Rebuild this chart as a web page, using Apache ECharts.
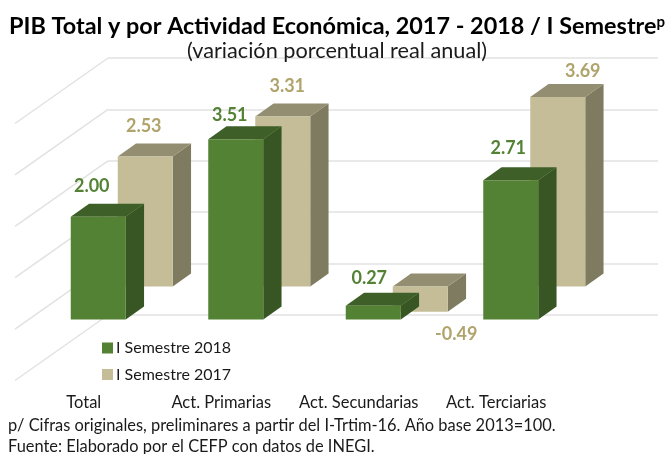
<!DOCTYPE html>
<html>
<head>
<meta charset="utf-8">
<style>html,body{margin:0;padding:0;background:#fff}#c{width:668px;height:454px}</style>
<script src="https://cdn.jsdelivr.net/npm/echarts@6/dist/echarts.min.js"></script>
</head>
<body>
<div id="c"></div>
<script>
var categories = ['Total', 'Act. Primarias', 'Act. Secundarias', 'Act. Terciarias'];
var values2018 = [2.00, 3.51, 0.27, 2.71];
var values2017 = [2.53, 3.31, -0.49, 3.69];
var wallTicks = [-1, 0, 1, 2, 3, 4];
var FONT = 'Lato, "Open Sans", sans-serif';
var DEPTH_X = 18.3, DEPTH_Y = 13, BAR_W = 55, FLOOR_X = 93, FLOOR_Y = 65.5;

function barRenderer(shiftX, shiftY, front, top, side, labelColor, labelOffsets) {
  return function (params, api) {
    var cat = api.value(0), v = api.value(1);
    var p0 = api.coord([cat, 0]), pv = api.coord([cat, v]);
    var cx = p0[0] + shiftX;
    var l = cx - BAR_W / 2, r = cx + BAR_W / 2;
    var t = Math.min(p0[1], pv[1]) + shiftY, b = Math.max(p0[1], pv[1]) + shiftY;
    var off = labelOffsets[params.dataIndex];
    return {
      type: 'group',
      children: [
        { type: 'polygon', shape: { points: [[r, t], [r + DEPTH_X, t - DEPTH_Y], [r + DEPTH_X, b - DEPTH_Y], [r, b]] }, style: { fill: side } },
        { type: 'polygon', shape: { points: [[l, t], [l + DEPTH_X, t - DEPTH_Y], [r + DEPTH_X, t - DEPTH_Y], [r, t]] }, style: { fill: top } },
        { type: 'rect', shape: { x: l, y: t, width: BAR_W, height: b - t }, style: { fill: front } },
        { type: 'text', z2: 100, style: { text: v.toFixed(2), x: cx + off[0], y: pv[1] + shiftY + off[1], fill: labelColor,
            font: 'bold 18px ' + FONT, textAlign: 'center', textVerticalAlign: 'middle' } }
      ]
    };
  };
}
function pairs(arr) { return arr.map(function (v, i) { return [i, v]; }); }

var chart = echarts.init(document.getElementById('c'), null, { renderer: 'canvas' });
chart.setOption({
  animation: false,
  backgroundColor: '#ffffff',
  title: [
    { text: '{a|PIB Total y por Actividad Económica, 2017 - 2018 / I Semestre}{b|p}', left: 337, top: 15, padding: 0, textAlign: 'center',
      textStyle: { rich: {
        a: { fontFamily: FONT, fontWeight: 'bold', fontSize: 23.4, color: '#000' },
        b: { fontFamily: FONT, fontWeight: 'bold', fontSize: 15, color: '#000', verticalAlign: 'top' } } } },
    { text: '(variación porcentual real anual)', left: 337, top: 40, padding: 0, textAlign: 'center',
      textStyle: { fontFamily: FONT, fontWeight: 'normal', fontSize: 21.7, color: '#1a1a1a' } },
    { text: 'p/ Cifras originales, preliminares a partir del I-Trtim-16. Año base 2013=100.', left: 8, top: 418, padding: 0,
      textStyle: { fontFamily: FONT, fontWeight: 'normal', fontSize: 16.4, color: '#1a1a1a' } },
    { text: 'Fuente: Elaborado por el CEFP con datos de INEGI.', left: 8, top: 439, padding: 0,
      textStyle: { fontFamily: FONT, fontWeight: 'normal', fontSize: 16.4, color: '#1a1a1a' } }
  ],
  legend: {
    orient: 'vertical', left: 102, top: 340, padding: 0, itemWidth: 11, itemHeight: 11, itemGap: 10.5,
    icon: 'rect', data: ['I Semestre 2018', 'I Semestre 2017'],
    textStyle: { fontFamily: FONT, fontSize: 16, color: '#1a1a1a', padding: [0, 0, 0, -2] }
  },
  grid: [
    { left: 108, top: 58, width: 550, height: 257 },
    { left: 15, top: 123.5, width: 550, height: 257 }
  ],
  xAxis: [
    { type: 'category', gridIndex: 0, data: categories, show: false },
    { type: 'category', gridIndex: 1, data: categories, axisLine: { show: false }, axisTick: { show: false },
      axisLabel: { margin: 14, fontFamily: FONT, fontSize: 16.5, color: '#1a1a1a', interval: 0 } }
  ],
  yAxis: [
    { type: 'value', gridIndex: 0, min: -1, max: 4, interval: 1, axisLine: { show: false }, axisTick: { show: false },
      axisLabel: { show: false }, splitLine: { show: true, lineStyle: { color: '#e2e2e2', width: 1.5 } } },
    { type: 'value', gridIndex: 1, min: -1, max: 4, interval: 1, show: false, splitLine: { show: false } }
  ],
  series: [
    { type: 'custom', name: 'floor', silent: true, xAxisIndex: 0, yAxisIndex: 0, z: 1,
      data: wallTicks.map(function (t) { return [0, t]; }),
      encode: { x: 0, y: 1 },
      renderItem: function (params, api) {
        var y = api.coord([0, api.value(1)])[1], x = params.coordSys.x;
        return { type: 'line', shape: { x1: x, y1: y, x2: x - FLOOR_X, y2: y + FLOOR_Y },
          style: { stroke: '#e2e2e2', lineWidth: 1.5 } };
      } },
    { type: 'custom', name: 'I Semestre 2017', silent: true, xAxisIndex: 0, yAxisIndex: 0, z: 2,
      itemStyle: { color: '#C4BD97' }, data: pairs(values2017), encode: { x: 0, y: 1 },
      renderItem: barRenderer(-31.5, 23, '#C4BD97', '#938E71', '#7F7B61', '#B0A46C',
        [[-1.5, -30.3], [4.5, -30.3], [36, 22], [25, -25.6]]) },
    { type: 'custom', name: 'I Semestre 2018', silent: true, xAxisIndex: 0, yAxisIndex: 0, z: 3,
      itemStyle: { color: '#548235' }, data: pairs(values2018), encode: { x: 0, y: 1 },
      renderItem: barRenderer(-78.5, 56, '#548235', '#3E5F27', '#375623', '#548235',
        [[-6.5, -31], [-6, -24], [-4, -28], [-2.5, -32]]) }
  ]
});
</script>
</body>
</html>
